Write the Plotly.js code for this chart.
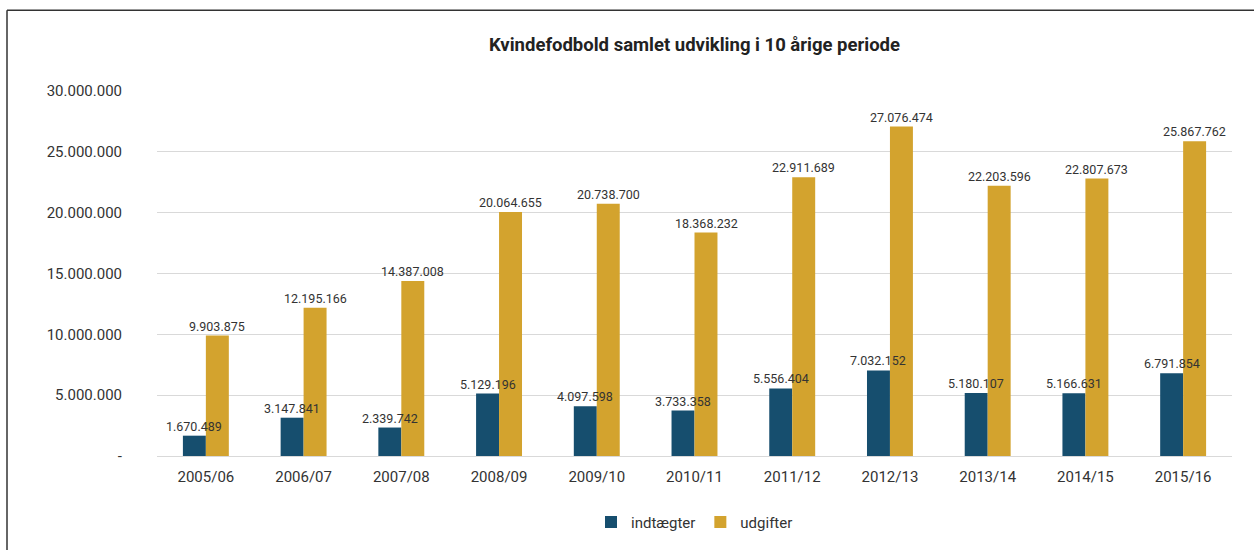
<!DOCTYPE html>
<html>
<head>
<meta charset="utf-8">
<script src="https://cdn.plot.ly/plotly-3.0.1.min.js"></script>
<style>
html,body{margin:0;padding:0;background:#fff;}
#chart{width:1254px;height:550px;}
</style>
</head>
<body>
<div id="chart"></div>
<script>
const seasons = ["2005/06","2006/07","2007/08","2008/09","2009/10","2010/11","2011/12","2012/13","2013/14","2014/15","2015/16"];
const indtaegter = [1670489,3147841,2339742,5129196,4097598,3733358,5556404,7032152,5180107,5166631,6791854];
const udgifter = [9903875,12195166,14387008,20064655,20738700,18368232,22911689,27076474,22203596,22807673,25867762];
const yTickVals = [0,5000000,10000000,15000000,20000000,25000000,30000000];
const yTickText = ["-","5.000.000","10.000.000","15.000.000","20.000.000","25.000.000","30.000.000"];

function fmt(v){ return String(v).replace(/\B(?=(\d{3})+(?!\d))/g, "."); }

const labelFont = {family:"Roboto, sans-serif", size:12.5, color:"#333333"};
const traces = [
  {type:"bar", name:"indtægter", x:seasons, y:indtaegter, marker:{color:"#164E6E"}, hoverinfo:"x+y"},
  {type:"bar", name:"udgifter", x:seasons, y:udgifter, marker:{color:"#D3A32E"}, hoverinfo:"x+y"}
];
const annotations = [];
const series = [[indtaegter, -11.5], [udgifter, 11.5]];
series.forEach(([vals, shift]) => {
  vals.forEach((v, i) => {
    annotations.push({x:seasons[i], y:v, xref:"x", yref:"y", text:fmt(v), showarrow:false,
      xanchor:"center", yanchor:"bottom", xshift:shift, yshift:0, font:labelFont});
  });
});
const layout = {
  width:1254, height:550,
  margin:{l:157, r:22, t:91, b:93},
  separators:",.",
  paper_bgcolor:"#ffffff", plot_bgcolor:"#ffffff",
  font:{family:"Roboto, sans-serif", color:"#333333"},
  title:{text:"<b>Kvindefodbold samlet udvikling i 10 årige periode</b>", font:{family:"Roboto, sans-serif", size:18.5, color:"#222222"},
         x:0.5, xref:"paper", xanchor:"center", y:1-45/550, yref:"container", yanchor:"middle"},
  barmode:"group", bargap:0.53, bargroupgap:0,
  xaxis:{type:"category", tickfont:{size:15, color:"#333333"}, showgrid:false, showline:true, linecolor:"#D9D9D9", linewidth:1, ticks:"", ticklabelstandoff:7, fixedrange:true},
  yaxis:{range:[0,30000000], tickvals:yTickVals, ticktext:yTickText, tickfont:{size:15, color:"#333333"}, showgrid:true, gridcolor:"#D9D9D9", gridwidth:1, zeroline:false, showline:false, ticks:"", ticklabelstandoff:34, fixedrange:true},
  showlegend:true,
  legend:{orientation:"h", x:0.5, xanchor:"center", y:-0.178, yanchor:"middle", font:{size:15, color:"#333333"}, itemwidth:30, traceorder:"normal"},
  annotations: annotations,
  shapes:[
    {type:"line", xref:"paper", yref:"paper", x0:(7-157)/1075, x1:(7-157)/1075, y0:(457-10)/366, y1:-0.5, line:{color:"#333333", width:1.5}},
    {type:"line", xref:"paper", yref:"paper", x0:(7-157)/1075, x1:1.1, y0:(457-10)/366, y1:(457-10)/366, line:{color:"#333333", width:1.5}}
  ]
};
Plotly.newPlot("chart", traces, layout, {displayModeBar:false, staticPlot:true});
</script>
</body>
</html>
